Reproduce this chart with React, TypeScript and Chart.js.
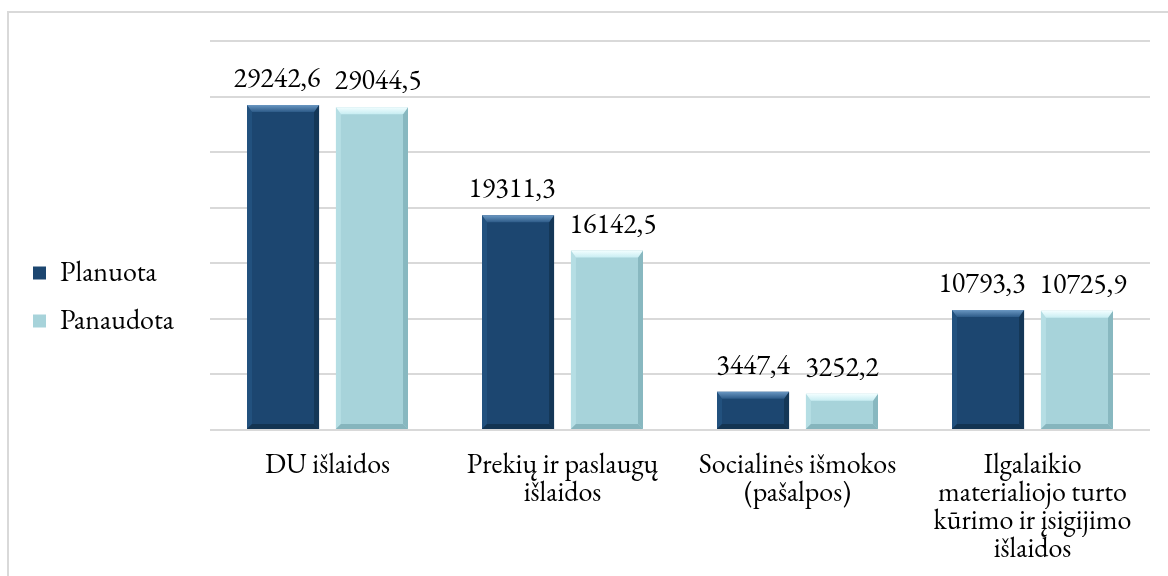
import React, { useEffect, useRef } from "react";
import { Chart, registerables } from "chart.js";

Chart.register(...registerables);

// ---- data ----
const categories: string[][] = [
  ["DU išlaidos"],
  ["Prekių ir paslaugų", "išlaidos"],
  ["Socialinės išmokos", "(pašalpos)"],
  ["Ilgalaikio", "materialiojo turto", "kūrimo ir įsigijimo", "išlaidos"],
];
const seriesNames = ["Planuota", "Panaudota"];
const planuota = [29242.6, 19311.3, 3447.4, 10793.3];
const panaudota = [29044.5, 16142.5, 3252.2, 10725.9];
const yMin = 0;
const yMax = 35000;
const yStep = 5000;

// ---- styles ----
const FAMILY = "EB Garamond";
const FONT_SIZE = 28;
const LABEL_GAP = 14;
const palettes = [
  {
    main: "#1c4670",
    topHi: "#6a97c2",
    topLo: "#2d5b88",
    left: "#22517e",
    right: "#143757",
    bottom: "#133452",
  },
  {
    main: "#a7d3da",
    topHi: "#f2feff",
    topLo: "#c8edf2",
    left: "#b5dee4",
    right: "#88b8c0",
    bottom: "#86b5bd",
  },
];

const fmt = (v: number) => v.toFixed(1).replace(".", ",");

function poly(ctx: CanvasRenderingContext2D, pts: number[][], fill: string | CanvasGradient) {
  ctx.beginPath();
  ctx.moveTo(pts[0][0], pts[0][1]);
  for (let i = 1; i < pts.length; i++) ctx.lineTo(pts[i][0], pts[i][1]);
  ctx.closePath();
  ctx.fillStyle = fill;
  ctx.fill();
}

const bevelPlugin = {
  id: "bevelAndLabels",
  afterDatasetsDraw(chart: any) {
    const ctx: CanvasRenderingContext2D = chart.ctx;
    const labels: { text: string; x: number; y: number; w: number }[][] = [];
    chart.data.datasets.forEach((ds: any, di: number) => {
      const meta = chart.getDatasetMeta(di);
      const pal = palettes[di];
      labels[di] = [];
      meta.data.forEach((bar: any, i: number) => {
        const { x, y, base, width } = bar.getProps(["x", "y", "base", "width"], true);
        const l = x - width / 2;
        const r = x + width / 2;
        const t = Math.min(y, base);
        const b = Math.max(y, base);
        const h = b - t;
        const bv = Math.min(7, h / 2);
        const sv = Math.min(5, h / 2);
        ctx.save();
        const g = ctx.createLinearGradient(0, t, 0, t + bv);
        g.addColorStop(0, pal.topHi);
        g.addColorStop(1, pal.topLo);
        poly(ctx, [[l, t], [l + sv, t + bv], [l + sv, b - sv], [l, b]], pal.left);
        poly(ctx, [[r, t], [r, b], [r - sv, b - sv], [r - sv, t + bv]], pal.right);
        poly(ctx, [[l, b], [l + sv, b - sv], [r - sv, b - sv], [r, b]], pal.bottom);
        poly(ctx, [[l, t], [r, t], [r - sv, t + bv], [l + sv, t + bv]], g);
        ctx.font = `${FONT_SIZE}px ${FAMILY}`;
        const text = fmt(ds.data[i]);
        labels[di][i] = { text, x, y: t - 18, w: ctx.measureText(text).width };
        ctx.restore();
      });
    });
    // push apart neighbouring labels of the same category if they collide
    if (labels.length === 2) {
      labels[0].forEach((a, i) => {
        const c = labels[1][i];
        if (!a || !c) return;
        const gap = c.x - c.w / 2 - (a.x + a.w / 2);
        if (gap < LABEL_GAP) {
          const d = (LABEL_GAP - gap) / 2;
          a.x -= d;
          c.x += d;
        }
      });
    }
    ctx.save();
    ctx.fillStyle = "#000";
    ctx.font = `${FONT_SIZE}px ${FAMILY}`;
    ctx.textAlign = "center";
    ctx.textBaseline = "alphabetic";
    labels.forEach((arr) => arr.forEach((lb) => ctx.fillText(lb.text, lb.x, lb.y)));
    ctx.restore();
  },
};

export default function App() {
  const canvasRef = useRef<HTMLCanvasElement | null>(null);

  useEffect(() => {
    let chart: Chart | null = null;
    let cancelled = false;
    const build = () => {
      if (cancelled || !canvasRef.current) return;
      Chart.defaults.font.family = FAMILY;
      chart = new Chart(canvasRef.current, {
        type: "bar",
        data: {
          labels: categories,
          datasets: [
            {
              label: seriesNames[0],
              data: planuota,
              backgroundColor: palettes[0].main,
              borderWidth: 0,
              barPercentage: 0.81,
              categoryPercentage: 0.757,
            },
            {
              label: seriesNames[1],
              data: panaudota,
              backgroundColor: palettes[1].main,
              borderWidth: 0,
              barPercentage: 0.81,
              categoryPercentage: 0.757,
            },
          ],
        },
        options: {
          responsive: false,
          animation: false,
          devicePixelRatio: 1,
          layout: { padding: { left: 13, top: 0, right: 18, bottom: 0 } },
          plugins: {
            title: {
              display: true,
              text: "",
              fullSize: false,
              font: { size: 1, lineHeight: 1 },
              padding: { top: 0, bottom: 40 },
            },
            legend: {
              position: "left",
              align: "center",
              title: {
                display: true,
                text: "",
                font: { size: 1, lineHeight: 1 },
                padding: { top: 0, bottom: 17 },
              },
              labels: {
                boxWidth: 13,
                boxHeight: 13,
                padding: 20,
                color: "#000",
                font: { size: FONT_SIZE, family: FAMILY },
              },
            },
            tooltip: { enabled: false },
          },
          scales: {
            x: {
              grid: { display: false, drawTicks: false },
              border: { display: false },
              ticks: {
                color: "#000",
                font: { size: FONT_SIZE, family: FAMILY, lineHeight: 1.0 },
                padding: 21,
                maxRotation: 0,
                minRotation: 0,
                autoSkip: false,
              },
              afterFit: (scale: any) => {
                scale.height = 146;
              },
            },
            y: {
              min: yMin,
              max: yMax,
              ticks: { stepSize: yStep, display: false },
              grid: { color: "#d9d9d9", lineWidth: 2, drawTicks: false },
              border: { display: false },
              afterFit: (scale: any) => {
                const lg = scale.chart.legend;
                const lw = lg && lg.width ? lg.width : 150;
                scale.width = 210 - 13 - lw;
              },
            },
          },
        },
        plugins: [bevelPlugin],
      });
    };
    const fonts: any = (document as any).fonts;
    if (fonts && fonts.load) {
      fonts
        .load(`${FONT_SIZE}px "${FAMILY}"`)
        .catch(() => null)
        .then(() => build());
    } else {
      build();
    }
    return () => {
      cancelled = true;
      if (chart) chart.destroy();
    };
  }, []);

  return (
    <div
      style={{
        position: "fixed",
        left: 0,
        top: 0,
        width: 1168,
        height: 576,
        overflow: "hidden",
        background: "#fff",
      }}
    >
      <div
        style={{
          position: "absolute",
          left: 7,
          top: 11,
          width: 1300,
          height: 700,
          border: "2px solid #d9d9d9",
          boxSizing: "border-box",
        }}
      />
      <canvas
        ref={canvasRef}
        width={1168}
        height={576}
        style={{ position: "absolute", left: 0, top: 0, width: 1168, height: 576 }}
      />
    </div>
  );
}
